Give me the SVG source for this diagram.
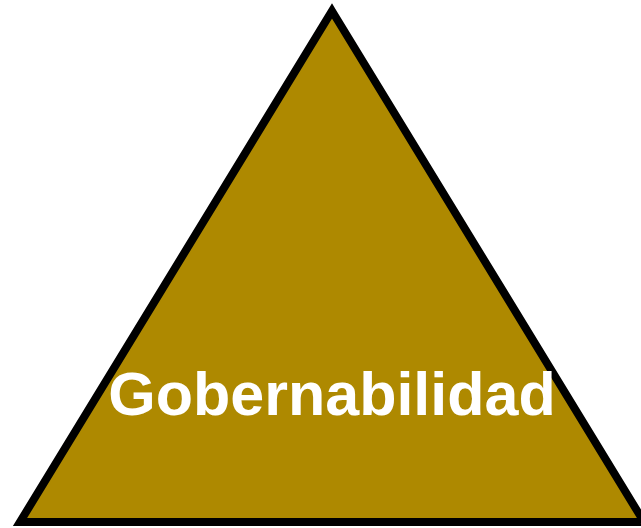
<svg xmlns="http://www.w3.org/2000/svg" width="641" height="528" viewBox="0 0 641 528">
<style>
.tri{fill:#AE8900;stroke:#000;stroke-width:8;stroke-linejoin:miter}
.lbl{font-family:"Liberation Sans",Arial,sans-serif;font-weight:bold;font-size:61px;fill:#fff;text-anchor:middle}
</style>
<rect width="641" height="528" fill="#fff"/>
<g id="triangle">
<polygon class="tri" points="332,11 644,522 20,522"/>
<text class="lbl" x="332" y="415">Gobernabilidad</text>
</g>
</svg>
